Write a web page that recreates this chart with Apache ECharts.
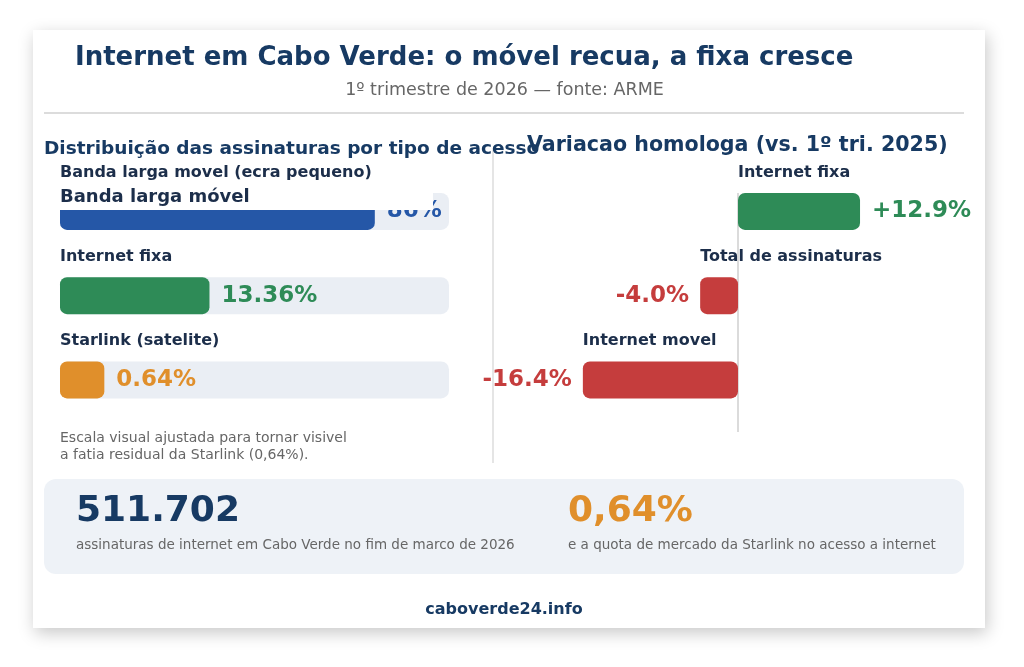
<!DOCTYPE html>
<html>
<head>
<meta charset="utf-8">
<title>Internet em Cabo Verde</title>
<script src="https://cdn.jsdelivr.net/npm/echarts@6/dist/echarts.min.js"></script>
<style>
  html, body { margin: 0; padding: 0; background: #ffffff; }
  #chart { width: 1024px; height: 667px; }
</style>
</head>
<body>
<div id="chart"></div>
<script>
// distribuicao por tipo de acesso (quota, %)
const categoriasDist = ['Banda larga movel (ecra pequeno)', 'Internet fixa', 'Starlink (satelite)'];
const quotasDist = [86, 13.36, 0.64];
const rotulosCurtos = ['Banda larga móvel', '', ''];
const coresDist = ['#2557a7', '#2e8b57', '#e08f2b'];

// variacao homologa vs 1o tri. 2025 (%)
const categoriasVar = ['Internet fixa', 'Total de assinaturas', 'Internet movel'];
const variacoes = [12.9, -4.0, -16.4];

const totalAssinaturas = '511.702';
const quotaStarlink = '0,64%';

const FONT = "'DejaVu Sans', sans-serif";
const NAVY = '#173a63';
const LABEL = '#1c2e4a';
const BAR_H = 37;

// escala visual ajustada (potencia 0.4) para a fatia da Starlink ficar visivel
function escala(v) {
    return Math.pow(v, 0.4);
}

function renderDist(params, api) {
    var i = params.dataIndex;
    var cs = params.coordSys;
    var base = api.coord([0, api.value(1)]);
    var end = api.coord([api.value(0), api.value(1)]);
    var cy = base[1];
    var cor = coresDist[i];
    var children = [
        {
            type: 'rect',
            shape: { x: cs.x, y: cy - BAR_H / 2, width: cs.width, height: BAR_H, r: 8 },
            style: { fill: '#eaeef4' }
        },
        {
            type: 'rect',
            shape: { x: base[0], y: cy - BAR_H / 2, width: end[0] - base[0], height: BAR_H, r: 7 },
            style: { fill: cor }
        },
        {
            type: 'text',
            x: base[0], y: cy - 39,
            style: { text: categoriasDist[i], fill: LABEL, font: 'bold 16px ' + FONT, verticalAlign: 'middle' }
        },
        {
            type: 'text',
            x: end[0] + 12, y: cy,
            style: { text: quotasDist[i] + '%', fill: cor, font: 'bold 23px ' + FONT, verticalAlign: 'middle' }
        }
    ];
    if (rotulosCurtos[i]) {
        // rotulo da versao movel, com fundo branco por cima da barra
        children.push({
            type: 'rect',
            shape: { x: base[0] - 10, y: cy - 31.5, width: 383, height: 30 },
            style: { fill: '#ffffff' }
        });
        children.push({
            type: 'text',
            x: base[0], y: cy - 14,
            style: { text: rotulosCurtos[i], fill: LABEL, font: 'bold 18px ' + FONT, verticalAlign: 'middle' }
        });
    }
    return { type: 'group', children: children };
}

function renderVar(params, api) {
    var i = params.dataIndex;
    var v = api.value(0);
    var zero = api.coord([0, api.value(1)]);
    var end = api.coord([v, api.value(1)]);
    var cy = zero[1];
    var cor = v >= 0 ? '#2e8b57' : '#c53d3d';
    var left = Math.min(zero[0], end[0]);
    var children = [];
    if (i === 0) {
        var last = api.coord([0, variacoes.length - 1]);
        children.push({
            type: 'line',
            shape: { x1: zero[0], y1: cy - BAR_H / 2, x2: zero[0], y2: last[1] + 52 },
            style: { stroke: '#cfcfcf', lineWidth: 1.5 }
        });
    }
    children.push({
        type: 'rect',
        shape: { x: left, y: cy - BAR_H / 2, width: Math.abs(end[0] - zero[0]), height: BAR_H, r: 7 },
        style: { fill: cor }
    });
    children.push({
        type: 'text',
        x: left, y: cy - 39,
        style: { text: categoriasVar[i], fill: LABEL, font: 'bold 16px ' + FONT, verticalAlign: 'middle' }
    });
    children.push({
        type: 'text',
        x: v >= 0 ? end[0] + 12 : end[0] - 11, y: cy,
        style: {
            text: (v > 0 ? '+' : '') + v.toFixed(1) + '%',
            fill: cor, font: 'bold 23px ' + FONT,
            align: v >= 0 ? 'left' : 'right', verticalAlign: 'middle'
        }
    });
    return { type: 'group', children: children };
}

var chart = echarts.init(document.getElementById('chart'), null, { renderer: 'canvas' });

var option = {
    backgroundColor: '#ffffff',
    animation: false,
    grid: [
        { left: 60, width: 389, top: 169.25, height: 252.75 },
        { left: 548.8, width: 378.4, top: 169.25, height: 252.75 }
    ],
    xAxis: [
        { gridIndex: 0, type: 'value', min: 0, max: 7.34, show: false },
        { gridIndex: 1, type: 'value', min: -20, max: 20, show: false }
    ],
    yAxis: [
        { gridIndex: 0, type: 'category', data: categoriasDist, inverse: true, show: false },
        { gridIndex: 1, type: 'category', data: categoriasVar, inverse: true, show: false }
    ],
    graphic: [
        {
            type: 'rect', z: -10,
            shape: { x: 33, y: 30, width: 952, height: 598 },
            style: { fill: '#ffffff', shadowBlur: 16, shadowColor: 'rgba(0,0,0,0.22)', shadowOffsetX: 2, shadowOffsetY: 5 }
        },
        {
            type: 'text', x: 75, y: 58, z: 5,
            style: { text: 'Internet em Cabo Verde: o móvel recua, a fixa cresce', fill: NAVY, font: 'bold 26px ' + FONT, verticalAlign: 'middle' }
        },
        {
            type: 'text', x: 504.5, y: 90, z: 5,
            style: { text: '1º trimestre de 2026 — fonte: ARME', fill: '#666666', font: '17.5px ' + FONT, align: 'center', verticalAlign: 'middle' }
        },
        {
            type: 'line', z: 5,
            shape: { x1: 44, y1: 113, x2: 964, y2: 113 },
            style: { stroke: '#d0d0d0', lineWidth: 1.5 }
        },
        {
            type: 'line', z: 5,
            shape: { x1: 493, y1: 150, x2: 493, y2: 463 },
            style: { stroke: '#dddddd', lineWidth: 1.5 }
        },
        {
            type: 'text', x: 44, y: 149, z: 5,
            style: { text: 'Distribuição das assinaturas por tipo de acesso', fill: NAVY, font: 'bold 18.5px ' + FONT, verticalAlign: 'middle' }
        },
        {
            type: 'text', x: 527, y: 146, z: 6,
            style: { text: 'Variacao homologa (vs. 1º tri. 2025)', fill: NAVY, font: 'bold 20.6px ' + FONT, verticalAlign: 'middle' }
        },
        {
            type: 'text', x: 60, y: 446.5, z: 5,
            style: { text: 'Escala visual ajustada para tornar visivel\na fatia residual da Starlink (0,64%).', fill: '#666666', font: '14px ' + FONT, lineHeight: 17, verticalAlign: 'middle' }
        },
        {
            type: 'rect', z: 5,
            shape: { x: 44, y: 479, width: 920, height: 95, r: 12 },
            style: { fill: '#eef2f7' }
        },
        {
            type: 'text', x: 76, y: 512, z: 6,
            style: { text: totalAssinaturas, fill: NAVY, font: 'bold 36px ' + FONT, verticalAlign: 'middle' }
        },
        {
            type: 'text', x: 76, y: 545, z: 6,
            style: { text: 'assinaturas de internet em Cabo Verde no fim de marco de 2026', fill: '#666666', font: '13.5px ' + FONT, verticalAlign: 'middle' }
        },
        {
            type: 'text', x: 568, y: 512, z: 6,
            style: { text: quotaStarlink, fill: '#e08f2b', font: 'bold 36px ' + FONT, verticalAlign: 'middle' }
        },
        {
            type: 'text', x: 568, y: 545, z: 6,
            style: { text: 'e a quota de mercado da Starlink no acesso a internet', fill: '#666666', font: '13.5px ' + FONT, verticalAlign: 'middle' }
        },
        {
            type: 'text', x: 504, y: 610, z: 5,
            style: { text: 'caboverde24.info', fill: NAVY, font: 'bold 16px ' + FONT, align: 'center', verticalAlign: 'middle' }
        }
    ],
    series: [
        {
            type: 'custom',
            xAxisIndex: 0, yAxisIndex: 0,
            renderItem: renderDist,
            encode: { x: 0, y: 1 },
            data: quotasDist.map(function (v, i) { return [escala(v), i]; })
        },
        {
            type: 'custom',
            xAxisIndex: 1, yAxisIndex: 1,
            renderItem: renderVar,
            encode: { x: 0, y: 1 },
            data: variacoes.map(function (v, i) { return [v, i]; })
        }
    ]
};

chart.setOption(option);
</script>
</body>
</html>
